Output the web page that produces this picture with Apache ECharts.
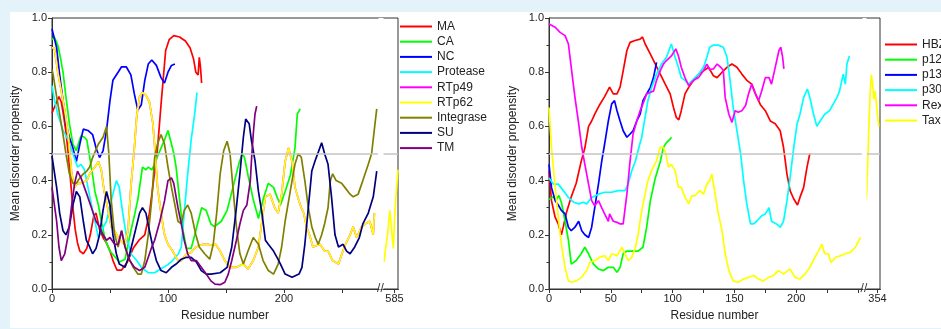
<!DOCTYPE html>
<html>
<head>
<meta charset="utf-8">
<script src="https://cdn.jsdelivr.net/npm/echarts@6.0.0/dist/echarts.min.js"></script>
<style>
  html, body { margin: 0; padding: 0; background: #e4f2fa; }
  #paper { position: absolute; left: 10px; top: 12px; width: 931px; height: 316px; background: #fff; }
  #chart { position: absolute; left: 0; top: 0; width: 941px; height: 329px; }
</style>
</head>
<body>
<div id="paper"></div>
<div id="chart"></div>
<script>
// ---- left panel: [residue, mean disorder propensity] ----
const MA = [[0,0.65],[3,0.68],[6,0.71],[8,0.69],[10,0.64],[12,0.58],[14,0.5],[16,0.4],[18,0.3],[20,0.22],[22,0.17],[24,0.14],[27,0.13],[30,0.15],[33,0.2],[36,0.27],[38,0.28],[41,0.22],[44,0.19],[47,0.17],[50,0.14],[53,0.1],[56,0.07],[60,0.07],[65,0.1],[70,0.15],[75,0.18],[80,0.2],[84,0.28],[87,0.38],[89,0.45],[91,0.52],[94,0.68],[96,0.78],[98,0.88],[101,0.92],[105,0.935],[110,0.93],[115,0.915],[119,0.89],[122,0.85],[124,0.8],[126,0.79],[127,0.855],[128,0.82],[129,0.76]]
const CA = [[0,0.92],[2,0.93],[5,0.9],[7,0.86],[9.5,0.8],[12,0.71],[15,0.61],[18,0.535],[21,0.51],[23,0.54],[25,0.565],[28,0.56],[30,0.55],[32,0.5],[35,0.42],[37,0.36],[40,0.31],[42.5,0.25],[46,0.18],[50,0.14],[54,0.12],[58,0.1],[63,0.11],[68,0.215],[71,0.27],[74,0.33],[78,0.45],[81,0.44],[83,0.45],[86,0.44],[88.5,0.46],[91,0.49],[94,0.52],[97,0.55],[100,0.585],[103,0.535],[105,0.5],[107,0.45],[110,0.33],[113,0.215],[116,0.15],[120,0.15],[124,0.215],[129,0.3],[133,0.29],[137,0.24],[140,0.23],[143,0.24],[146,0.25],[151,0.29],[156,0.375],[161,0.46],[164,0.5],[166,0.485],[169,0.42],[173.5,0.33],[178,0.26],[182,0.33],[186.5,0.39],[191,0.375],[194,0.34],[197,0.31],[201,0.36],[205.5,0.42],[209.5,0.52],[211.5,0.645],[214,0.665]]
const NC = [[0,0.96],[1,0.96],[4,0.89],[6.6,0.79],[9.5,0.695],[12,0.61],[15,0.56],[18,0.52],[21,0.47],[24,0.535],[27,0.59],[31,0.585],[35,0.57],[38,0.52],[41,0.485],[44,0.51],[47,0.585],[50,0.695],[52.5,0.77],[57,0.8],[60,0.82],[64,0.82],[68,0.79],[71,0.72],[74,0.66],[77,0.68],[80,0.77],[83,0.83],[86,0.845],[90,0.825],[94,0.78],[97,0.76],[100,0.8],[103,0.825],[106,0.83]]
const Protease = [[0,0.75],[2,0.7],[5,0.645],[9.5,0.585],[14,0.55],[18,0.5],[22,0.45],[25,0.46],[28,0.44],[31,0.375],[35,0.29],[40,0.19],[42.5,0.215],[47,0.25],[51,0.325],[55.5,0.4],[58,0.375],[61,0.28],[64,0.2],[68,0.13],[73,0.105],[77,0.08],[83,0.06],[88.5,0.06],[94,0.075],[100,0.09],[104,0.105],[109,0.13],[111.5,0.155],[114,0.28],[117,0.425],[120,0.55],[123,0.645],[125,0.725]]
const RTp62_head = [[0,0.89],[2,0.89],[5,0.8],[8,0.73],[11,0.66],[14,0.57],[17,0.425],[19.5,0.375],[22,0.39],[25,0.39],[30,0.4],[32.5,0.425],[37,0.45],[40,0.47],[42.5,0.44],[45,0.36],[48,0.3],[51,0.23],[54,0.215],[58,0.18],[63,0.165],[65.5,0.215],[68,0.375],[71,0.52],[73,0.635],[75.5,0.71],[78,0.725],[81,0.715],[84,0.69],[87,0.61],[89,0.5],[91,0.375],[94,0.28],[97,0.2],[100,0.165],[104,0.14],[108.6,0.105],[111.5,0.105],[116,0.13],[120,0.135],[124,0.155],[130,0.165],[134.5,0.165],[139,0.16],[141,0.165],[145,0.14],[149,0.105],[153,0.08],[159,0.08],[165,0.092],[169,0.074],[173.5,0.105],[178,0.155],[181,0.25],[184,0.34],[188,0.35],[192,0.3],[195,0.28],[198,0.35],[201,0.47],[204,0.52],[207,0.47],[209.5,0.375],[214,0.31],[217,0.28],[219.5,0.23],[222,0.2],[225,0.155],[231,0.165],[235,0.14],[238,0.14],[242,0.105],[247,0.092],[250,0.13],[253,0.165],[257,0.2],[259.7,0.23],[262.6,0.19],[267,0.23],[270,0.24],[274,0.25],[277,0.2],[278,0.28]]
const RTp62_tail = [[576,0.1],[577,0.14],[579,0.2],[581,0.29],[582,0.24],[584,0.15],[585,0.25],[586,0.33],[588,0.44]]
const RTp49 = RTp62_head // hidden under RTp62 in the figure
const Integrase = [[0,0.81],[1,0.79],[4,0.71],[6.6,0.645],[9.5,0.57],[12,0.5],[15,0.425],[18,0.39],[21,0.39],[24,0.41],[27,0.425],[30,0.435],[32.5,0.45],[35,0.485],[40,0.535],[44,0.56],[47,0.6],[49,0.5],[51,0.33],[54,0.2],[57,0.155],[60,0.215],[63,0.155],[65.5,0.12],[70,0.08],[74,0.055],[77,0.055],[80,0.105],[83,0.2],[86,0.33],[88.5,0.485],[91,0.535],[94,0.57],[97,0.535],[100,0.45],[103,0.375],[106,0.31],[108.6,0.25],[111.5,0.24],[114,0.29],[117,0.31],[120,0.28],[124,0.2],[127,0.155],[131.6,0.13],[136,0.11],[139,0.165],[142,0.28],[145,0.425],[148,0.51],[151,0.545],[153.5,0.5],[156,0.375],[159,0.23],[162,0.13],[165,0.092],[169,0.14],[173.5,0.19],[178,0.165],[182,0.105],[186.5,0.068],[191,0.055],[195,0.092],[198,0.155],[201,0.25],[204,0.325],[207,0.4],[209.5,0.46],[212.4,0.5],[215,0.485],[218,0.4],[221,0.3],[224,0.23],[227,0.19],[229.6,0.165],[232.5,0.2],[235,0.24],[238,0.3],[240,0.4],[242,0.425],[245,0.4],[249.7,0.39],[252.5,0.375],[257,0.35],[259.7,0.34],[264,0.35],[268,0.4],[272.7,0.46],[275.6,0.5],[278.5,0.61],[280,0.665]]
const SU = [[0,0.49],[4,0.375],[6.6,0.28],[9.5,0.215],[12,0.2],[15,0.23],[18,0.31],[21,0.36],[24,0.34],[27,0.25],[29.6,0.18],[32.5,0.155],[35,0.13],[38,0.15],[41,0.2],[44,0.29],[47,0.36],[50,0.31],[52.5,0.2],[55.5,0.13],[58,0.092],[63,0.08],[67,0.13],[71,0.2],[75.5,0.28],[78,0.3],[81,0.28],[84,0.215],[87,0.155],[90,0.105],[94,0.068],[98.5,0.06],[103,0.08],[107,0.092],[111.5,0.11],[116,0.117],[120,0.117],[124.4,0.1],[128.7,0.068],[133,0.055],[137,0.055],[145,0.06],[151,0.08],[155,0.155],[159,0.3],[162,0.425],[165,0.56],[167,0.627],[170,0.61],[172,0.547],[175,0.475],[178,0.36],[181,0.28],[184,0.18],[186.5,0.165],[191,0.14],[194,0.117],[197,0.092],[201,0.055],[207,0.043],[213,0.055],[215.5,0.08],[218,0.165],[221,0.3],[224,0.435],[227,0.475],[229.6,0.505],[232.5,0.54],[235,0.5],[238,0.46],[241,0.34],[244,0.2],[247,0.155],[251,0.165],[254,0.14],[257,0.13],[261,0.155],[265,0.19],[268,0.24],[272.7,0.28],[277,0.34],[280,0.435]]
const TM = [[0,0.375],[4,0.25],[6,0.155],[8,0.105],[11,0.13],[14,0.2],[16.7,0.3],[19.5,0.39],[22,0.435],[25,0.41],[30,0.35],[34,0.3],[38,0.25],[41,0.23],[44,0.2],[47,0.18],[50,0.19],[54,0.165],[57,0.165],[60,0.215],[63,0.155],[67,0.105],[71,0.08],[75.5,0.068],[80,0.08],[83,0.117],[86,0.155],[88.5,0.18],[93,0.25],[97,0.325],[100,0.4],[103,0.41],[105,0.39],[108.6,0.3],[111.5,0.24],[114,0.18],[117,0.13],[120,0.105],[124.4,0.105],[128.7,0.08],[133,0.055],[137,0.03],[140.5,0.018],[145,0.016],[149,0.025],[152,0.055],[155,0.105],[159,0.18],[162,0.24],[165,0.29],[168,0.31],[171,0.4],[172,0.475],[173.5,0.57],[175,0.645],[176.5,0.675]]

// ---- right panel ----
const HBZ = [[0,0.437],[2,0.326],[5,0.264],[7.5,0.24],[10,0.2],[11.6,0.23],[14,0.28],[18,0.34],[22,0.39],[26,0.47],[29,0.52],[32,0.6],[34.5,0.62],[37,0.645],[41,0.68],[45,0.71],[49,0.745],[52,0.72],[55,0.72],[57.5,0.745],[60,0.805],[63,0.88],[65.6,0.91],[69.6,0.917],[73.7,0.922],[75.6,0.93],[77.7,0.905],[82,0.867],[86,0.83],[90,0.793],[94,0.756],[98,0.72],[100.7,0.67],[103,0.633],[105,0.624],[107,0.658],[110,0.72],[113,0.744],[117,0.77],[121,0.793],[125,0.805],[129,0.818],[133,0.787],[136,0.78],[140,0.8],[144,0.818],[148,0.83],[152,0.818],[156,0.793],[160,0.77],[164,0.756],[167,0.72],[171,0.68],[175,0.658],[179,0.62],[183,0.61],[187,0.584],[189.7,0.523],[192.5,0.424],[195,0.363],[198,0.332],[201,0.31],[203,0.338],[206,0.375],[208.7,0.45],[211,0.5]]
const p12 = [[0,0.33],[3,0.34],[6,0.33],[8,0.345],[10,0.32],[13,0.25],[15.7,0.18],[18,0.092],[22,0.105],[26,0.13],[29,0.154],[32,0.13],[36,0.092],[40,0.074],[44,0.068],[48,0.08],[52,0.08],[55,0.062],[57.5,0.08],[60,0.13],[63,0.14],[67,0.14],[72,0.14],[76,0.154],[79,0.228],[82,0.326],[86,0.41],[90,0.47],[92.6,0.523],[95,0.54],[98,0.553],[99,0.56]]
const p13 = [[0,0.46],[2,0.375],[5,0.326],[7.5,0.31],[10,0.29],[13,0.277],[15.7,0.228],[18,0.215],[21,0.228],[24,0.25],[26.5,0.215],[29,0.2],[32,0.19],[34.5,0.228],[37,0.3],[40,0.387],[42.6,0.47],[45,0.535],[48,0.62],[50.7,0.683],[53,0.695],[55,0.658],[57.5,0.62],[60,0.584],[63,0.56],[65.6,0.572],[68,0.584],[71,0.62],[73.7,0.645],[76,0.695],[79,0.72],[82,0.744],[84.5,0.78],[87,0.836]]
const p30 = [[0,0.41],[3.5,0.387],[7.5,0.387],[11.6,0.363],[15.7,0.338],[20,0.32],[24,0.314],[28,0.32],[30.5,0.314],[34.5,0.338],[40,0.35],[45,0.357],[50.7,0.357],[56,0.363],[61.5,0.363],[64,0.387],[67,0.437],[70,0.473],[72,0.51],[75,0.56],[77.7,0.633],[80,0.695],[83,0.744],[87,0.793],[91,0.83],[95,0.855],[98,0.892],[99,0.904],[102,0.855],[104.7,0.818],[107,0.78],[110,0.77],[113,0.756],[117,0.775],[121,0.793],[125,0.818],[127.7,0.855],[130,0.892],[133,0.9],[137,0.9],[141,0.892],[144,0.855],[146.5,0.77],[149,0.67],[152,0.584],[155,0.5],[157.4,0.4],[160,0.314],[163,0.24],[165.5,0.24],[168,0.25],[172,0.27],[175,0.277],[178,0.3],[180,0.25],[184,0.24],[187,0.228],[189.7,0.25],[192.5,0.326],[195,0.41],[198,0.523],[200.7,0.61],[203,0.645],[206,0.707],[209,0.738],[211,0.707],[214,0.645],[216.7,0.6],[219.4,0.62],[223,0.645],[227,0.658],[230,0.683],[233,0.707],[235,0.73],[238,0.793],[239.7,0.756],[241,0.83],[243,0.86]]
const Rex = [[0,0.978],[5,0.966],[9,0.947],[13,0.935],[15.7,0.904],[18,0.818],[21,0.707],[24,0.61],[26.5,0.523],[29,0.46],[32,0.387],[34.5,0.326],[37,0.307],[40,0.326],[42.6,0.3],[45,0.277],[48,0.25],[49,0.277],[52,0.25],[55,0.246],[57.5,0.24],[60,0.24],[63,0.35],[65.6,0.473],[68,0.572],[71,0.62],[73.7,0.658],[76,0.683],[79,0.72],[82,0.726],[84.5,0.73],[87,0.77],[90,0.806],[92.6,0.83],[95,0.843],[99,0.86],[102.6,0.886],[104.7,0.86],[107,0.818],[110,0.78],[113,0.75],[117,0.77],[121,0.78],[125,0.806],[127.7,0.83],[130,0.81],[133,0.812],[136,0.83],[139,0.818],[141,0.806],[142.5,0.707],[145.5,0.645],[148,0.615],[150.6,0.658],[153,0.652],[156,0.658],[159,0.677],[161.4,0.72],[164,0.756],[167,0.72],[169.5,0.695],[172,0.73],[175,0.78],[178,0.78],[180,0.756],[183,0.818],[186,0.88],[187.5,0.892],[189,0.855],[190,0.812]]
const Tax_head = [[0,0.67],[2,0.523],[5,0.375],[7.5,0.264],[10,0.166],[13,0.08],[15.7,0.03],[18,0.025],[22,0.03],[26.5,0.043],[30.5,0.068],[33,0.098],[37,0.105],[41,0.117],[45,0.123],[48,0.105],[50.7,0.13],[55,0.123],[59,0.154],[61.5,0.13],[64,0.105],[67,0.117],[70,0.154],[72,0.2],[75,0.29],[77.7,0.35],[80,0.4],[83,0.437],[87,0.473],[90,0.523],[92.6,0.523],[94.5,0.5],[96.6,0.45],[99,0.46],[102,0.437],[104.7,0.375],[107,0.375],[110,0.338],[113,0.314],[115.5,0.344],[118,0.344],[122,0.363],[125,0.35],[127.7,0.387],[130,0.4],[131.7,0.424],[134.4,0.35],[137,0.277],[140,0.215],[142.5,0.13],[145.5,0.068],[149,0.03],[153,0.025],[157.4,0.037],[161.4,0.043],[165.5,0.05],[169.5,0.037],[173.5,0.03],[177.6,0.043],[181.6,0.05],[185.7,0.068],[189.7,0.055],[195,0.074],[199,0.043],[203,0.037],[207,0.055],[211,0.08],[215,0.117],[218,0.14],[220.7,0.166],[223,0.13],[226,0.13],[228,0.098],[232,0.117],[236,0.123],[239.7,0.13],[243.8,0.135],[247.8,0.154],[250.5,0.178],[252,0.19]]
const Tax_tail = [[345,0.33],[346,0.45],[347,0.6],[348,0.72],[349,0.79],[350,0.76],[351,0.7],[352,0.73],[353,0.69],[354,0.64],[355,0.6]]

const leftNames = ['MA', 'CA', 'NC', 'Protease', 'RTp49', 'RTp62', 'Integrase', 'SU', 'TM']
const rightNames = ['HBZ', 'p12', 'p13', 'p30', 'Rex', 'Tax']
const xTicksLeft = [0, 50, 100, 150, 200, 250, 585]
const xLabelsLeft = [0, 100, 200, 585]
const xTicksRight = [0, 25, 50, 75, 100, 125, 150, 175, 200, 225, 250, 354]
const xLabelsRight = [0, 50, 100, 150, 200, 354]
const breakLeft = [281, 575]
const breakRight = [253, 345]
const maxLeft = 588
const maxRight = 356
const cutoff = 0.5

const FONT = 'Liberation Sans, Arial, sans-serif'

function line(name, data, color, idx) {
  return {
    name: name,
    type: 'line',
    xAxisIndex: idx,
    yAxisIndex: idx,
    data: data,
    symbol: 'none',
    z: 3,
    lineStyle: { color: color, width: 1.7 },
    itemStyle: { color: color },
    animation: false
  }
}

// gray 0.5 line, interrupted at the axis break
function refLine(idx, brk, max) {
  return {
    type: 'line',
    xAxisIndex: idx,
    yAxisIndex: idx,
    data: [],
    z: 1,
    silent: true,
    animation: false,
    markLine: {
      silent: true,
      symbol: ['none', 'none'],
      label: { show: false },
      lineStyle: { color: '#c4c4c4', width: 1.5, type: 'solid' },
      data: [
        [{ coord: [0, cutoff] }, { coord: [brk[0], cutoff] }],
        [{ coord: [brk[1], cutoff] }, { coord: [max, cutoff] }]
      ]
    }
  }
}

function xAxis(idx, max, brk, gap, ticks, labels) {
  return {
    type: 'value',
    gridIndex: idx,
    min: 0,
    max: max,
    name: 'Residue number',
    nameLocation: 'middle',
    nameGap: 21,
    nameTextStyle: { fontFamily: FONT, fontSize: 12, color: '#222' },
    breaks: [{ start: brk[0], end: brk[1], gap: gap }],
    breakArea: {
      show: true,
      zigzagAmplitude: 0,
      zigzagZ: 50,
      itemStyle: { color: '#fff', borderColor: '#fff', borderWidth: 0, opacity: 1 }
    },
    axisLine: { onZero: false, lineStyle: { color: '#333', width: 1 } },
    axisTick: { customValues: ticks, length: 4, lineStyle: { color: '#333' } },
    axisLabel: { customValues: labels, fontFamily: FONT, fontSize: 11, color: '#222', margin: 4 },
    splitLine: { show: false }
  }
}

function yAxis(idx) {
  return {
    type: 'value',
    gridIndex: idx,
    min: 0,
    max: 1,
    interval: 0.2,
    name: 'Mean disorder propensity',
    nameLocation: 'middle',
    nameGap: 30,
    nameTextStyle: { fontFamily: FONT, fontSize: 12, color: '#222' },
    axisLine: { show: true, lineStyle: { color: '#333', width: 1 } },
    axisTick: { length: 4, lineStyle: { color: '#333' } },
    minorTick: { show: true, splitNumber: 2, length: 2.5, lineStyle: { color: '#333' } },
    axisLabel: { fontFamily: FONT, fontSize: 11, color: '#222', margin: 5, formatter: v => v.toFixed(1) },
    splitLine: { show: false }
  }
}

const leftColors = ['#ff0000', '#00ff00', '#0000ff', '#00ffff', '#ff00ff', '#ffff00', '#808000', '#000080', '#800080']
const rightColors = ['#ff0000', '#00ff00', '#0000ff', '#00ffff', '#ff00ff', '#ffff00']
// a '-' point inside the break keeps the line from bridging it
const leftData = [MA, CA, NC, Protease, RTp49, RTp62_head.concat([[400, '-']], RTp62_tail), Integrase, SU, TM]
const rightData = [HBZ, p12, p13, p30, Rex, Tax_head.concat([[300, '-']], Tax_tail)]

const series = [refLine(0, breakLeft, maxLeft), refLine(1, breakRight, maxRight)]
leftNames.forEach((n, i) => series.push(line(n, leftData[i], leftColors[i], 0)))
rightNames.forEach((n, i) => series.push(line(n, rightData[i], rightColors[i], 1)))

const legendBase = {
  orient: 'vertical',
  icon: 'rect',
  itemWidth: 32,
  itemHeight: 2,
  itemGap: 2.2,
  selectedMode: false,
  padding: 0,
  textStyle: { fontFamily: FONT, fontSize: 12, color: '#222', lineHeight: 13 }
}

const chart = echarts.init(document.getElementById('chart'), null, { renderer: 'canvas' })
chart.setOption({
  backgroundColor: 'transparent',
  animation: false,
  grid: [
    { left: 52, top: 18, width: 346, height: 271, show: true, borderColor: '#333', borderWidth: 1, backgroundColor: 'transparent' },
    { left: 549, top: 18, width: 331, height: 271, show: true, borderColor: '#333', borderWidth: 1, backgroundColor: 'transparent' }
  ],
  legend: [
    Object.assign({}, legendBase, { data: leftNames, left: 400, top: 20 }),
    Object.assign({}, legendBase, { data: rightNames, left: 885, top: 38 })
  ],
  xAxis: [
    xAxis(0, maxLeft, breakLeft, '1.45%', xTicksLeft, xLabelsLeft),
    xAxis(1, maxRight, breakRight, '1.4%', xTicksRight, xLabelsRight)
  ],
  yAxis: [yAxis(0), yAxis(1)],
  series: series
})

// "//" marks where the x axes are broken
const marks = [[0, breakLeft[1]], [1, breakRight[1]]].map(([idx, end]) => {
  const x = chart.convertToPixel({ xAxisIndex: idx }, end) - 2.5
  const y = chart.convertToPixel({ yAxisIndex: idx }, 0)
  return {
    type: 'text',
    x: x,
    y: y,
    z: 100,
    style: { text: '//', fontFamily: FONT, fontSize: 12, fill: '#333', align: 'center', verticalAlign: 'middle' }
  }
})
chart.setOption({ graphic: marks })
</script>
</body>
</html>
